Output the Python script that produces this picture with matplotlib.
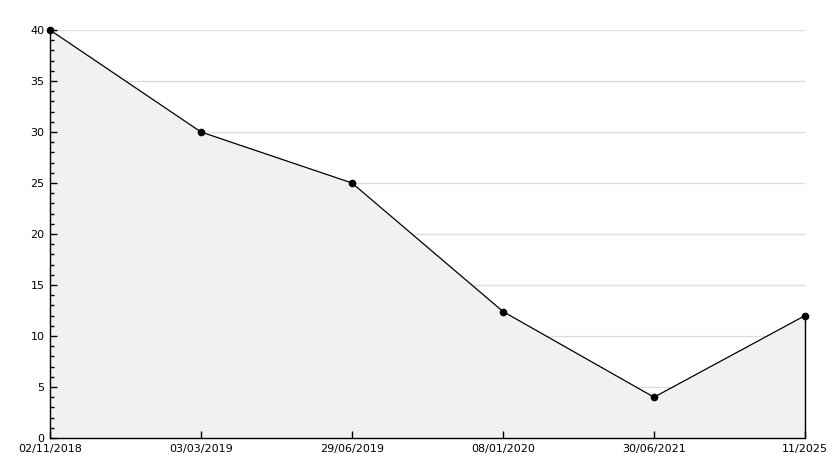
import numpy as np
import matplotlib
matplotlib.use("Agg")
import matplotlib.pyplot as plt
from matplotlib.ticker import MultipleLocator

## data
dates  = ["02/11/2018", "03/03/2019", "29/06/2019", "08/01/2020", "30/06/2021", "11/2025"]
values = [40, 30, 25, 12.4, 4, 12]
grid_levels = [5, 10, 15, 20, 25, 30, 35, 40]

x = np.arange(len(dates))

fig = plt.figure(figsize=(8.34, 4.68), dpi=100)
ax = fig.add_axes([50/834, 30/468, (805-50)/834, (438-30)/468])

## grid drawn by hand so the ticks can sit on top of the fill
for g in grid_levels:
    ax.axhline(g, color="#dddddd", linewidth=1, zorder=0)

ax.fill_between(x, values, 0, color="#f1f1f1", zorder=1, linewidth=0)
ax.plot(x, values, color="black", linewidth=0.9, zorder=3, clip_on=False)
ax.plot(x, values, linestyle="none", marker="o", markersize=4.5, color="black",
        zorder=4, clip_on=False)
ax.vlines(x[-1], 0, values[-1], color="black", linewidth=1, zorder=3, clip_on=False)

ax.set_xlim(x[0], x[-1])
ax.set_ylim(0, 40)
ax.set_xticks(x)
ax.set_xticklabels(dates)
ax.yaxis.set_major_locator(MultipleLocator(5))
ax.yaxis.set_minor_locator(MultipleLocator(1))

for s in ["top", "right"]:
    ax.spines[s].set_visible(False)
for s in ["left", "bottom"]:
    ax.spines[s].set_color("black")
    ax.spines[s].set_linewidth(1)
    ax.spines[s].set_zorder(5)

ax.xaxis.set_zorder(5)
ax.yaxis.set_zorder(5)
ax.tick_params(axis="both", which="major", direction="in", length=5, width=1,
               labelsize=8, colors="black")
ax.tick_params(axis="y", which="minor", direction="in", length=3, width=1, colors="black")
ax.tick_params(axis="x", which="major", pad=4)
ax.tick_params(axis="y", which="major", pad=4)
for lab in ax.get_xticklabels() + ax.get_yticklabels():
    lab.set_family("DejaVu Sans")

plt.savefig("out.png", dpi=100)
